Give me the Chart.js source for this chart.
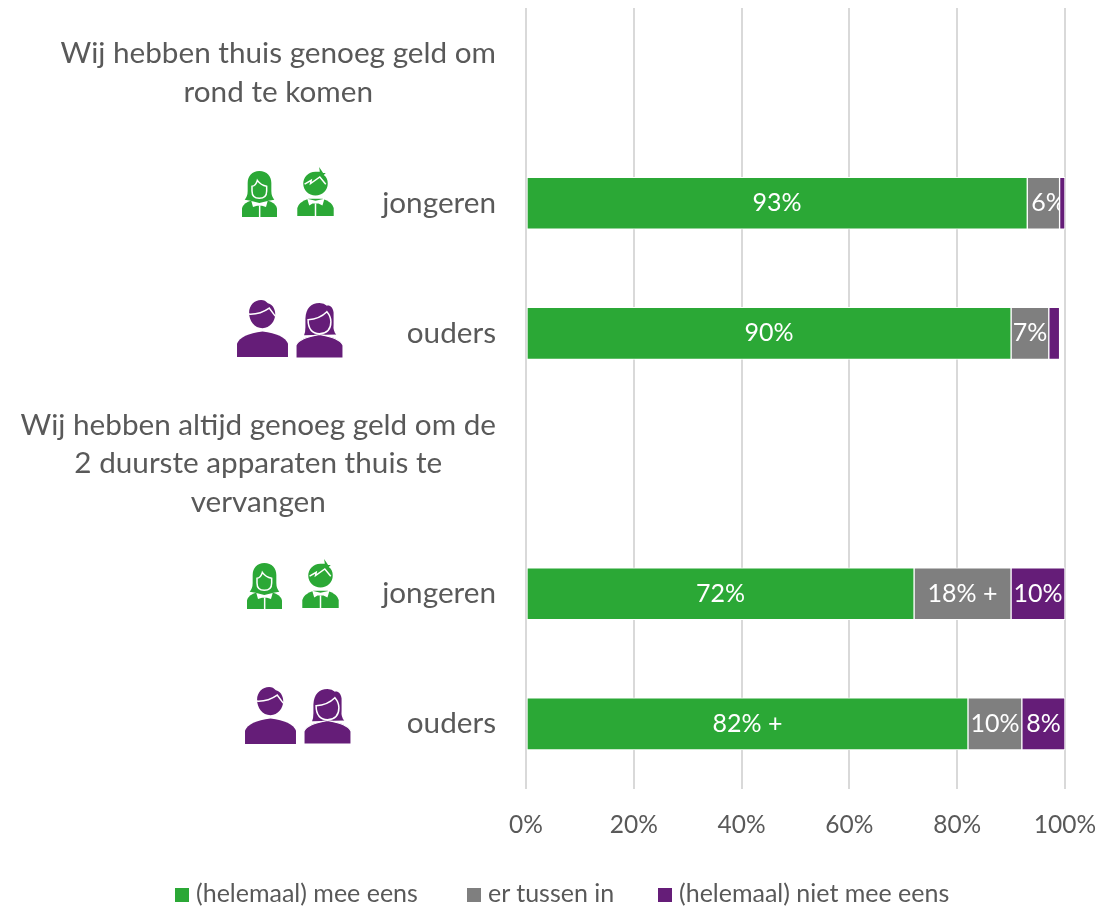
<!DOCTYPE html>
<html>
<head>
<meta charset="utf-8">
<script src="https://cdn.jsdelivr.net/npm/chart.js@4"></script>
<style>
  html, body { margin: 0; padding: 0; background: #fff; }
  #wrap { position: relative; width: 1114px; height: 906px; overflow: hidden; }
  #chart { position: absolute; left: 0; top: 0; }
  .icon { position: absolute; }
  #legend { position: absolute; left: 175px; top: 876px; height: 32px; white-space: nowrap;
            font: 25px Lato, sans-serif; color: #595959; line-height: 32px; }
  #legend span.box { display: inline-block; width: 14px; height: 14px; margin-right: 7px; }
  #legend span.item { position: absolute; top: 0; }
</style>
</head>
<body>
<div id="wrap">
  <canvas id="chart" width="1114" height="906"></canvas>

  <!-- iconen (pictogrammen, geen data) -->
  <svg width="0" height="0" style="position:absolute">
    <symbol id="girl" viewBox="0 0 105 138">
      <path fill="#2ba836" d="M52 0C30 0 17 15 17 36V60Q17 76 8 86L30 90H75L97 86Q88 76 88 60V36C88 15 75 0 52 0Z"/>
      <path fill="#2ba836" stroke="#fff" stroke-width="4.5" d="M30 46Q42 44 46 28Q56 42 74 46V60Q74 82 52 82Q30 82 30 60Z"/>
      <path fill="#2ba836" d="M0 138V112Q4 96 30 88H75Q101 96 105 112V138Z"/>
      <path fill="#fff" d="M28 90L52 96L77 90L72 108L60 104H45L33 108Z"/>
      <path stroke="#fff" stroke-width="4.5" d="M53 104V138"/>
    </symbol>
    <symbol id="boy" viewBox="0 0 110 148">
      <path fill="#2ba836" d="M55 14C32 14 18 32 18 50C18 70 34 86 55 86C76 86 92 70 92 50C92 38 88 30 80 24L86 18L78 18L66 0L68 14Q60 14 55 14Z"/>
      <path fill="none" stroke="#fff" stroke-width="4.5" d="M22 52L42 40L40 50L68 30L86 52"/>
      <path fill="#2ba836" d="M0 148V124Q4 106 34 96H76Q106 106 110 124V148Z"/>
      <path fill="#fff" d="M30 96L55 102L82 96L76 116L64 110H46L36 116Z"/>
      <path stroke="#fff" stroke-width="4.5" d="M55 110V148"/>
    </symbol>
    <symbol id="man" viewBox="0 0 152 170">
      <path fill="#651d78" d="M72 0C52 0 36 16 36 38C36 62 52 84 76 84C98 84 114 64 114 42C114 26 104 12 92 10Q84 0 72 0Z"/>
      <path fill="none" stroke="#fff" stroke-width="4.5" d="M34 42Q68 44 96 24L114 48"/>
      <path fill="#651d78" d="M0 170V130Q12 102 76 94Q140 102 152 130V170Z"/>
    </symbol>
    <symbol id="woman" viewBox="0 0 140 164">
      <path fill="#651d78" d="M70 0C44 0 30 16 28 46V72Q28 86 24 96L120 94Q110 84 112 64V28C110 14 102 6 92 8Q84 0 70 0Z"/>
      <path fill="#651d78" stroke="#fff" stroke-width="4.5" d="M36 50Q70 48 92 26Q104 40 104 56Q104 90 70 92Q36 90 36 50Z"/>
      <path fill="#651d78" stroke="#fff" stroke-width="3" d="M0 164V126Q10 104 70 94Q130 104 140 126V164Z"/>
    </symbol>
  </svg>
  <svg class="icon" style="left:242px;top:171px" width="35" height="46"><use href="#girl"/></svg>
  <svg class="icon" style="left:297px;top:167px" width="37" height="49"><use href="#boy"/></svg>
  <svg class="icon" style="left:237px;top:300px" width="51" height="57"><use href="#man"/></svg>
  <svg class="icon" style="left:296px;top:303px" width="47" height="55"><use href="#woman"/></svg>
  <svg class="icon" style="left:247px;top:563px" width="35" height="46"><use href="#girl"/></svg>
  <svg class="icon" style="left:302px;top:559px" width="37" height="49"><use href="#boy"/></svg>
  <svg class="icon" style="left:245px;top:687px" width="51" height="57"><use href="#man"/></svg>
  <svg class="icon" style="left:304px;top:689px" width="47" height="55"><use href="#woman"/></svg>

  <div id="legend"></div>
</div>

<script>
// data
const categories = [
  ['Wij hebben thuis genoeg geld om', 'rond te komen'],
  'jongeren',
  'ouders',
  ['Wij hebben altijd genoeg geld om de', '2 duurste apparaten thuis te', 'vervangen'],
  'jongeren',
  'ouders'
];
const seriesNames = ['(helemaal) mee eens', 'er tussen in', '(helemaal) niet mee eens'];
const meeEens = [null, 93, 90, null, 72, 82];
const tussenIn = [null, 6, 7, null, 18, 10];
const nietMeeEens = [null, 1, 2, null, 10, 8];
const meeEensLabels = ['', '93%', '90%', '', '72%', '82% +'];
const tussenInLabels = ['', '6%', '7%', '', '18% +', '10%'];
const nietMeeEensLabels = ['', '', '', '', '10%', '8%'];
const xTicks = [0, 20, 40, 60, 80, 100];

const colors = { green: '#2ba836', grey: '#7f7f7f', purple: '#651d78', text: '#595959', grid: '#d9d9d9' };
const fontFamily = 'Lato, sans-serif';

// categorie-labels: blok rechts uitgelijnd, regels onderling gecentreerd
const categoryLabels = {
  id: 'categoryLabels',
  afterDraw(chart) {
    const ctx = chart.ctx;
    const yScale = chart.scales.y;
    ctx.save();
    ctx.font = '29.7px ' + fontFamily;
    ctx.fillStyle = colors.text;
    ctx.textBaseline = 'middle';
    ctx.textAlign = 'center';
    categories.forEach((cat, i) => {
      const lines = Array.isArray(cat) ? cat : [cat];
      const w = Math.max(...lines.map(l => ctx.measureText(l).width));
      const cx = 496 - w / 2;
      const cy = yScale.getPixelForTick(i);
      lines.forEach((line, j) => {
        ctx.fillText(line, cx, cy + (j - (lines.length - 1) / 2) * 38.5);
      });
    });
    ctx.restore();
  }
};

// labels in de balken; de paarse balk komt over het label van de grijze heen
const barLabels = {
  id: 'barLabels',
  afterDatasetsDraw(chart) {
    const ctx = chart.ctx;
    const drawLabels = (dsIndex, texts) => {
      chart.getDatasetMeta(dsIndex).data.forEach((bar, i) => {
        if (!texts[i]) return;
        const p = bar.getCenterPoint();
        // het 6%-label staat in het origineel iets naar rechts
        const shift = texts[i] === '6%' ? 5 : 0;
        ctx.fillText(texts[i], p.x + shift, p.y);
      });
    };
    ctx.save();
    ctx.font = '25px ' + fontFamily;
    ctx.fillStyle = '#fff';
    ctx.textAlign = 'center';
    ctx.textBaseline = 'middle';
    drawLabels(0, meeEensLabels);
    drawLabels(1, tussenInLabels);
    chart.getDatasetMeta(2).data.forEach((bar, i) => {
      if (nietMeeEens[i] !== null) bar.draw(ctx);
    });
    ctx.fillStyle = '#fff';
    drawLabels(2, nietMeeEensLabels);
    ctx.restore();
  }
};

const dataset = (label, data, color) => ({
  label: label,
  data: data,
  backgroundColor: color,
  borderColor: '#fff',
  borderWidth: 1,
  borderSkipped: false,
  barThickness: 52
});

const chart = new Chart(document.getElementById('chart'), {
  type: 'bar',
  data: {
    labels: categories,
    datasets: [
      dataset(seriesNames[0], meeEens, colors.green),
      dataset(seriesNames[1], tussenIn, colors.grey),
      dataset(seriesNames[2], nietMeeEens, colors.purple)
    ]
  },
  options: {
    indexAxis: 'y',
    responsive: false,
    animation: false,
    layout: { autoPadding: false, padding: { top: 8, right: 49, left: 0, bottom: 0 } },
    plugins: { legend: { display: false }, tooltip: { enabled: false } },
    scales: {
      y: {
        stacked: true,
        grid: { display: false },
        border: { display: false },
        ticks: { display: false },
        afterFit(scale) { scale.width = 526; }
      },
      x: {
        stacked: true,
        min: 0,
        max: 100,
        afterBuildTicks(scale) { scale.ticks = xTicks.map(v => ({ value: v })); },
        grid: { color: colors.grid, lineWidth: 2, drawTicks: false },
        border: { display: false },
        ticks: {
          padding: 21,
          color: colors.text,
          font: { family: fontFamily, size: 24.5 },
          maxRotation: 0,
          callback: v => v + '%'
        },
        afterFit(scale) {
          scale.height = 117;
          scale.paddingLeft = 0;
          scale.paddingRight = 0;
        }
      }
    }
  },
  plugins: [categoryLabels, barLabels]
});

// legenda als gewone tekst onder de grafiek
const legendEl = document.getElementById('legend');
const legendLeft = [0, 292, 483];
chart.data.datasets.forEach((ds, i) => {
  const item = document.createElement('span');
  item.className = 'item';
  item.style.left = legendLeft[i] + 'px';
  const box = document.createElement('span');
  box.className = 'box';
  box.style.background = ds.backgroundColor;
  item.appendChild(box);
  item.appendChild(document.createTextNode(ds.label));
  legendEl.appendChild(item);
});
</script>
</body>
</html>
